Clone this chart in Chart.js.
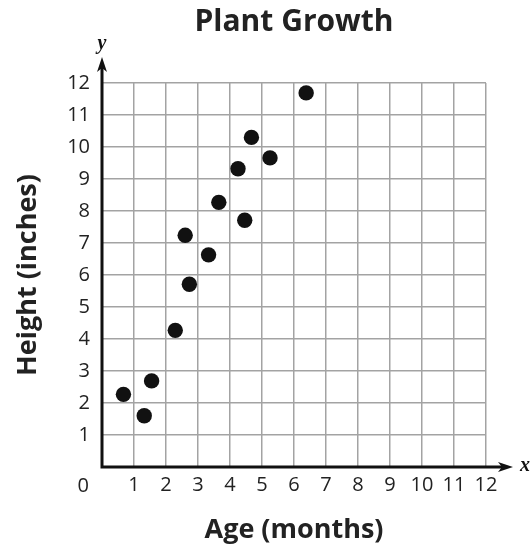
<!DOCTYPE html>
<html>
<head>
<meta charset="utf-8">
<title>Plant Growth</title>
<script src="https://cdn.jsdelivr.net/npm/chart.js@4.4.1/dist/chart.umd.min.js"></script>
<style>
  body { margin: 0; background: #fff; }
</style>
</head>
<body>
<canvas id="chart" width="532" height="550"></canvas>
<script>
// values
var ages = [0.67, 1.32, 1.55, 2.29, 2.73, 3.33, 2.60, 3.65, 4.46, 4.25, 4.67, 5.25, 6.38];
var heights = [2.27, 1.60, 2.69, 4.27, 5.71, 6.63, 7.24, 8.27, 7.71, 9.32, 10.30, 9.66, 11.69];
var xTicks = [0, 1, 2, 3, 4, 5, 6, 7, 8, 9, 10, 11, 12];
var yTicks = [0, 1, 2, 3, 4, 5, 6, 7, 8, 9, 10, 11, 12];

var FONT = "'Open Sans', 'Noto Sans', sans-serif";

var points = ages.map(function (a, i) { return { x: a, y: heights[i] }; });

// axes with arrows, the x / y letters and the corner 0
var axisArrows = {
    id: 'axisArrows',
    afterDraw: function (chart) {
        var ctx = chart.ctx;
        var x0 = chart.scales.x.getPixelForValue(0);
        var y0 = chart.scales.y.getPixelForValue(0);
        var yTop = chart.chartArea.top - 26;
        var xEnd = chart.chartArea.right + 27;
        ctx.save();
        ctx.strokeStyle = '#111';
        ctx.fillStyle = '#111';
        ctx.lineWidth = 3;
        ctx.beginPath();
        ctx.moveTo(x0, y0 + 1.5);
        ctx.lineTo(x0, yTop + 8);
        ctx.moveTo(x0 - 1.5, y0);
        ctx.lineTo(xEnd - 8, y0);
        ctx.stroke();
        // arrow heads
        ctx.beginPath();
        ctx.moveTo(x0, yTop);
        ctx.lineTo(x0 + 5, yTop + 15);
        ctx.lineTo(x0, yTop + 11);
        ctx.lineTo(x0 - 5, yTop + 15);
        ctx.closePath();
        ctx.fill();
        ctx.beginPath();
        ctx.moveTo(xEnd, y0);
        ctx.lineTo(xEnd - 15, y0 - 5);
        ctx.lineTo(xEnd - 11, y0);
        ctx.lineTo(xEnd - 15, y0 + 5);
        ctx.closePath();
        ctx.fill();

        ctx.font = "italic bold 20px 'Liberation Serif', 'DejaVu Serif', serif";
        ctx.textAlign = 'center';
        ctx.textBaseline = 'middle';
        ctx.fillText('y', x0, yTop - 13);
        ctx.fillText('x', xEnd + 12, y0 - 1);

        ctx.font = '20px ' + FONT;
        ctx.fillStyle = '#222';
        ctx.textAlign = 'right';
        ctx.fillText('0', x0 - 13, y0 + 19);
        ctx.restore();
    }
};

var config = {
    type: 'scatter',
    data: {
        datasets: [{
            label: 'Plant height',
            data: points,
            backgroundColor: '#111',
            borderWidth: 0,
            pointRadius: 7.7,
            pointHoverRadius: 7.7
        }]
    },
    options: {
        responsive: false,
        animation: false,
        layout: { padding: { left: 0, right: 46, top: 0, bottom: 0 } },
        plugins: {
            legend: { display: false },
            tooltip: { enabled: false },
            title: {
                display: true,
                fullSize: false,
                text: 'Plant Growth',
                color: '#222',
                font: { family: FONT, size: 30, weight: 'bold', lineHeight: 1.2 },
                padding: { top: 4, bottom: 43 }
            }
        },
        scales: {
            x: {
                type: 'linear',
                min: 0,
                max: 12,
                afterFit: function (scale) { scale.height = 83; },
                afterBuildTicks: function (scale) {
                    scale.ticks = xTicks.map(function (v) { return { value: v }; });
                },
                ticks: {
                    padding: 6,
                    color: '#222',
                    font: { family: FONT, size: 20 },
                    callback: function (v) { return v === 0 ? '' : String(v); }
                },
                grid: { color: '#a3a3a3', lineWidth: 1.5, drawTicks: false },
                border: { display: false },
                title: {
                    display: true,
                    text: 'Age (months)',
                    color: '#222',
                    font: { family: FONT, size: 27, weight: 'bold', lineHeight: 1.2 },
                    padding: { top: 0, bottom: 3.8 }
                }
            },
            y: {
                type: 'linear',
                min: 0,
                max: 12,
                afterFit: function (scale) { scale.width = 102; },
                afterBuildTicks: function (scale) {
                    scale.ticks = yTicks.map(function (v) { return { value: v }; });
                },
                ticks: {
                    padding: 12,
                    color: '#222',
                    font: { family: FONT, size: 20 },
                    callback: function (v) { return v === 0 ? '' : String(v); }
                },
                grid: { color: '#a3a3a3', lineWidth: 1.5, drawTicks: false },
                border: { display: false },
                title: {
                    display: true,
                    text: 'Height (inches)',
                    color: '#222',
                    font: { family: FONT, size: 27, weight: 'bold', lineHeight: 1.2 },
                    padding: { top: 11.8, bottom: 0 }
                }
            }
        }
    },
    plugins: [axisArrows]
};

var ctx = document.getElementById('chart').getContext('2d');
window.plantChart = new Chart(ctx, config);
</script>
</body>
</html>
